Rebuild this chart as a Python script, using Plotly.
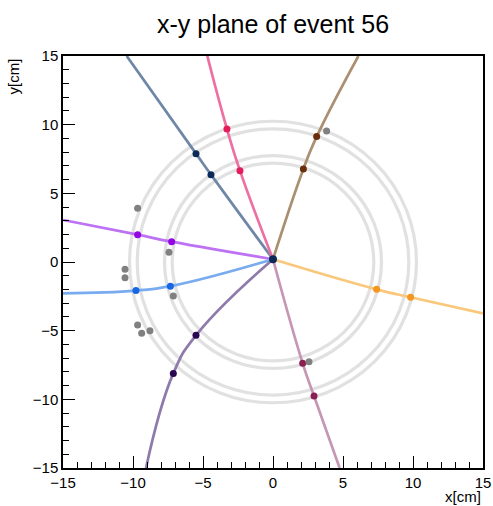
import plotly.graph_objects as go

# Primary vertex in the transverse plane [cm]
vertex_x = [0.0]
vertex_y = [0.2]

# Reconstructed tracks: line colour, hit colour, and the hits in the two
# detector layers (inner, outer) plus the point where each leaves the view
track_names = ["trk1", "trk2", "trk3", "trk4", "trk5", "trk6", "trk7", "trk8"]
track_line_colors = ["#6f87a6", "#ee70a2", "#ab8f72", "#bd72f4",
                     "#79abf0", "#8e7aab", "#f9c87c", "#c697b4"]
track_hit_colors = ["#0c2a58", "#e51c5c", "#6a2e0c", "#9405e4",
                    "#1767e4", "#2a0652", "#f4961f", "#8a1f51"]
track_x = [
    [-4.43, -5.50, -10.45],
    [-2.36, -3.29, -4.69],
    [2.17, 3.12, 6.10],
    [-7.24, -9.67, -15.0],
    [-7.33, -9.79, -15.0],
    [-5.50, -7.12, -9.07],
    [7.40, 9.83, 15.0],
    [2.12, 2.93, 4.76],
]
track_y = [
    [6.36, 7.89, 15.0],
    [6.65, 9.69, 15.0],
    [6.77, 9.13, 15.0],
    [1.48, 1.99, 3.06],
    [-1.76, -2.08, -2.28],
    [-5.34, -8.11, -15.0],
    [-1.99, -2.57, -3.74],
    [-7.38, -9.76, -15.0],
]

# Hits not associated with any track
noise_x = [-9.67, -7.43, -10.57, -10.57, -7.12, -9.67, -9.38, -8.79, 2.57, 3.83]
noise_y = [3.91, 0.71, -0.53, -1.14, -2.48, -4.59, -5.19, -5.00, -7.26, 9.54]

# Detector layer radii [cm]
layer_radii = [7.2, 7.75, 9.7, 10.25]

fig = go.Figure()

# detector layers
for r in layer_radii:
    fig.add_shape(type="circle", xref="x", yref="y",
                  x0=-r, y0=-r, x1=r, y1=r,
                  line=dict(color="rgba(205,205,205,0.6)", width=3.2),
                  layer="below")

# tracks
for name, lc, hc, tx, ty in zip(track_names, track_line_colors,
                                track_hit_colors, track_x, track_y):
    fig.add_trace(go.Scatter(
        x=vertex_x + tx, y=vertex_y + ty, mode="lines",
        line=dict(color=lc, width=2.7, shape="spline", smoothing=1.3),
        hoverinfo="skip", showlegend=False, name=name))
for name, hc, tx, ty in zip(track_names, track_hit_colors, track_x, track_y):
    fig.add_trace(go.Scatter(
        x=tx[:2], y=ty[:2], mode="markers",
        marker=dict(color=hc, size=7), showlegend=False, name=name + " hits"))

fig.add_trace(go.Scatter(x=noise_x, y=noise_y, mode="markers",
                         marker=dict(color="#808080", size=7),
                         showlegend=False, name="noise"))
fig.add_trace(go.Scatter(x=vertex_x, y=vertex_y, mode="markers",
                         marker=dict(color="#0c2a58", size=8),
                         showlegend=False, name="vertex"))

font = "Liberation Sans, Arial, Helvetica, sans-serif"
axis_common = dict(
    range=[-15, 15], showgrid=False, zeroline=False, automargin=False,
    showline=True, mirror=True, linecolor="black", linewidth=1.5,
    ticks="inside", ticklen=12, tickwidth=1, tickcolor="black",
    tick0=0, dtick=5,
    minor=dict(ticks="inside", ticklen=6, dtick=1, tickcolor="black", tickwidth=1),
    tickfont=dict(family=font, size=15, color="black"),
)

fig.update_layout(
    width=493, height=506,
    margin=dict(l=63, r=10, t=56, b=38),
    paper_bgcolor="white", plot_bgcolor="white",
    title=dict(text="x-y plane of event 56", x=0.5, xref="paper",
               y=1 - 24 / 506, yref="container", yanchor="middle",
               font=dict(family=font, size=25, color="black")),
    xaxis=axis_common,
    yaxis=axis_common,
    annotations=[
        dict(text="y[cm]", xref="paper", yref="paper", x=-0.118, y=1.0,
             xanchor="center", yanchor="top", textangle=-90, showarrow=False,
             font=dict(family=font, size=15, color="black")),
        dict(text="x[cm]", xref="paper", yref="paper", x=1.0, y=-0.068,
             xanchor="right", yanchor="middle", showarrow=False,
             font=dict(family=font, size=15, color="black")),
    ],
)

fig.write_html("out.html")
